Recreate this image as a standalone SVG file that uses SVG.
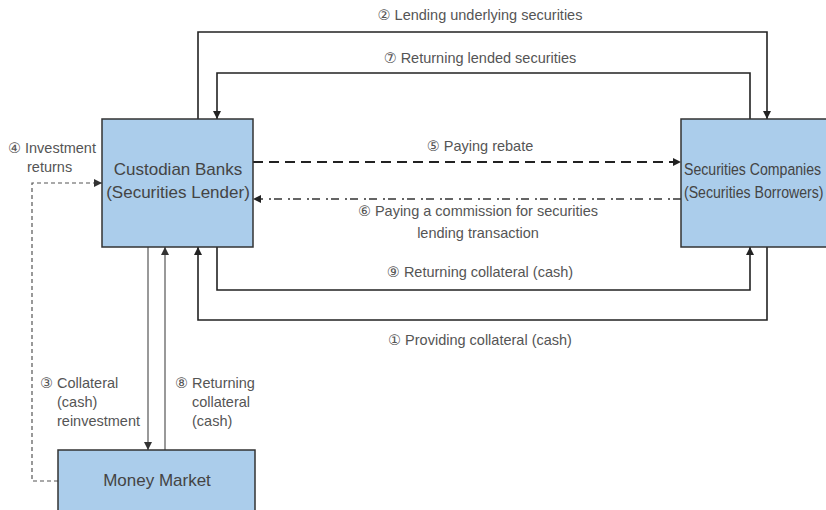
<svg xmlns="http://www.w3.org/2000/svg" width="826" height="510" viewBox="0 0 826 510">
<defs>
<marker id="ah" viewBox="0 0 10 10" refX="10" refY="5" markerWidth="8" markerHeight="8" markerUnits="userSpaceOnUse" orient="auto">
<path d="M0,0 L10,5 L0,10 z" fill="#222"/>
</marker>
<marker id="ahg" viewBox="0 0 10 10" refX="10" refY="5" markerWidth="8" markerHeight="8" markerUnits="userSpaceOnUse" orient="auto">
<path d="M0,0 L10,5 L0,10 z" fill="#333"/>
</marker>
<style>
.box{fill:#abcdeb;stroke:#333;stroke-width:1.5}
.nt{font-family:"Liberation Sans",Arial,sans-serif;font-size:17px;fill:#444}
.lb{font-family:"Liberation Sans","DejaVu Sans",Arial,sans-serif;font-size:14.5px;fill:#555}
.solid{fill:none;stroke:#222;stroke-width:1.6;marker-end:url(#ah)}
.thin{fill:none;stroke:#555;stroke-width:1.2;marker-end:url(#ahg)}
.dash{fill:none;stroke:#222;stroke-width:2;stroke-dasharray:10,6;marker-end:url(#ah)}
.dashdot{fill:none;stroke:#333;stroke-width:1.6;stroke-dasharray:8,3,2,6;marker-end:url(#ah)}
.dashg{fill:none;stroke:#555;stroke-width:1.2;stroke-dasharray:4,3;marker-end:url(#ahg)}
</style>
</defs>
<rect width="826" height="510" fill="#fff"/>
<g id="connectors">
<path id="c2" class="solid" d="M198,247 V32 H767 V119"/>
<path id="c7" class="solid" d="M750,119 V73 H217 V119"/>
<path id="c5" class="dash" d="M253,162 H681"/>
<path id="c6" class="dashdot" d="M681,199 H253"/>
<path id="c9" class="solid" d="M217,247 V290 H750 V247"/>
<path id="c1" class="solid" d="M767,247 V320 H198 V247"/>
<path id="c3" class="thin" d="M148,247 V450"/>
<path id="c8" class="thin" d="M165,450 V247"/>
<path id="c4" class="dashg" d="M58,481 H32 V183 H102"/>
</g>
<g id="labels">
<text class="lb" x="480" y="20" text-anchor="middle">② Lending underlying securities</text>
<text class="lb" x="480" y="63" text-anchor="middle">⑦ Returning lended securities</text>
<text class="lb" x="480" y="151" text-anchor="middle">⑤ Paying rebate</text>
<text class="lb" x="478" y="216" text-anchor="middle">⑥ Paying a commission for securities</text>
<text class="lb" x="478" y="238" text-anchor="middle">lending transaction</text>
<text class="lb" x="480" y="277" text-anchor="middle">⑨ Returning collateral (cash)</text>
<text class="lb" x="480" y="345" text-anchor="middle">① Providing collateral (cash)</text>
<text class="lb" x="8" y="153">④ Investment</text>
<text class="lb" x="27" y="172">returns</text>
<text class="lb" x="40" y="388">③ Collateral</text>
<text class="lb" x="57" y="407">(cash)</text>
<text class="lb" x="57" y="426">reinvestment</text>
<text class="lb" x="175" y="388">⑧ Returning</text>
<text class="lb" x="192" y="407">collateral</text>
<text class="lb" x="192" y="426">(cash)</text>
</g>
<g id="custodian">
<rect class="box" x="102" y="119" width="151" height="128"/>
<text class="nt" x="178" y="175" text-anchor="middle">Custodian Banks</text>
<text class="nt" x="178" y="198" text-anchor="middle">(Securities Lender)</text>
</g>
<g id="securities">
<rect class="box" x="681" y="119" width="160" height="128"/>
<g transform="translate(684,0) scale(0.83,1)">
<text class="nt" x="0" y="175">Securities Companies</text>
<text class="nt" x="0" y="198">(Securities Borrowers)</text>
</g>
</g>
<g id="money">
<rect class="box" x="58" y="450" width="197" height="70"/>
<text class="nt" x="157" y="486" text-anchor="middle">Money Market</text>
</g>
</svg>
